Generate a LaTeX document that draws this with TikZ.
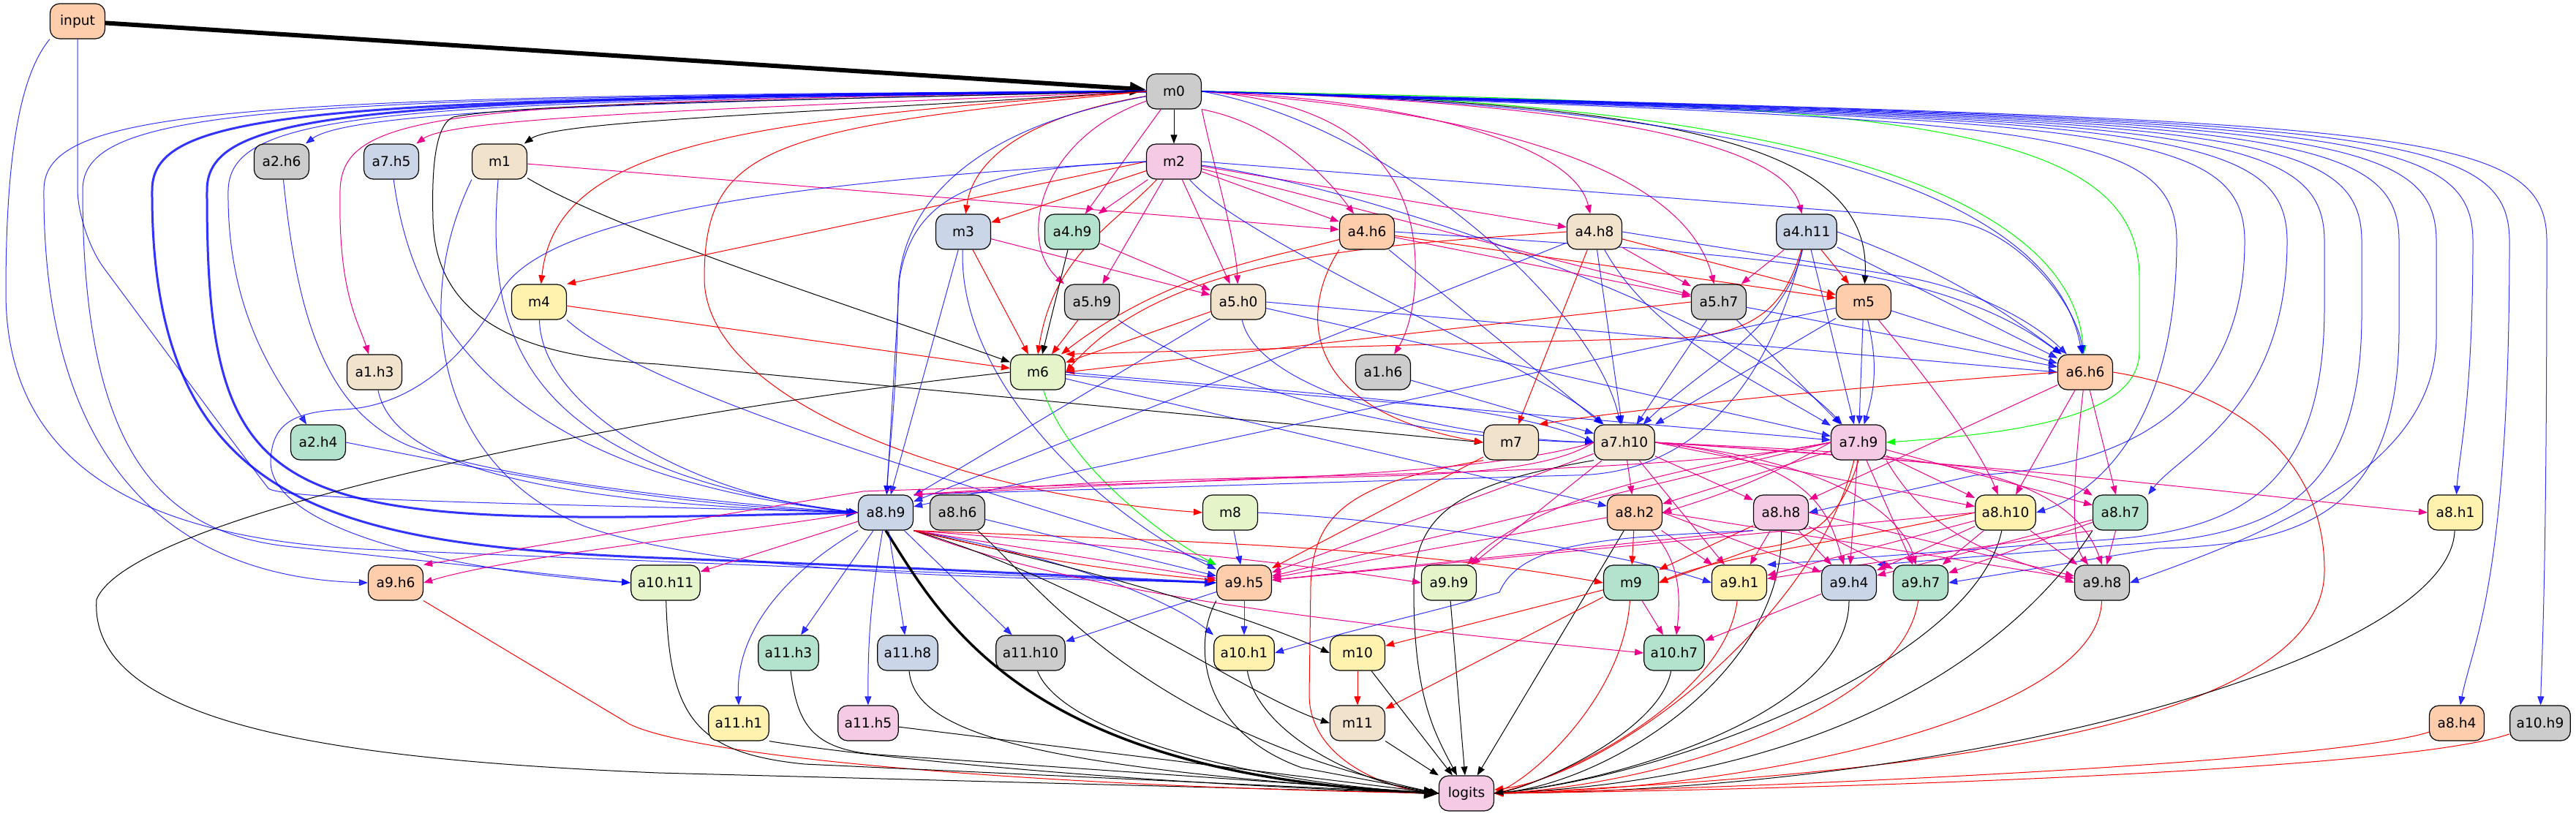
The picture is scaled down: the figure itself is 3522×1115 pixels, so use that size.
\documentclass[tikz,border=0pt]{standalone}
\usepackage{fontspec}
\setmainfont{DejaVu Sans}
\usetikzlibrary{arrows.meta,backgrounds}
\definecolor{cGrey}{HTML}{CCCCCC}
\definecolor{cBlue}{HTML}{CBD5E8}
\definecolor{cGreen}{HTML}{B3E2CD}
\definecolor{cPeach}{HTML}{FDCDAC}
\definecolor{cBeige}{HTML}{F1E2CC}
\definecolor{cPink}{HTML}{F4CAE4}
\definecolor{cLgreen}{HTML}{E6F5C9}
\definecolor{cYellow}{HTML}{FFF2AE}
\tikzset{
  nd/.style={draw=black, line width=0.6pt, rounded corners=6.5pt, minimum width=37.5pt,
    minimum height=24pt, inner xsep=4.5pt, inner ysep=0pt, font=\fontsize{9.3}{10}\selectfont},
  ed/.style={line width=0.5pt, -{Triangle[length=6pt,width=4.5pt]}},
  eB/.style={ed, color=blue, opacity=0.8},
  eR/.style={ed, color=red},
  eM/.style={ed, color=magenta},
  eG/.style={ed, color=green},
  eK/.style={ed, color=black},
  thk/.style={line width=1.5pt, -{Triangle[length=8pt,width=6pt]}}
}
\begin{document}
\begin{tikzpicture}[x=0.5pt,y=-0.5pt]
\useasboundingbox (0,0) rectangle (3522,1115);
% nodes
\node[nd, fill=cPeach] (input) at (106,29) {input};
\node[nd, fill=cGrey] (m0) at (1605,125) {m0};
\node[nd, fill=cGrey] (a2h6) at (385,221) {a2.h6};
\node[nd, fill=cBlue] (a7h5) at (535,221) {a7.h5};
\node[nd, fill=cBeige] (m1) at (683,221) {m1};
\node[nd, fill=cPink] (m2) at (1605,221) {m2};
\node[nd, fill=cBlue] (m3) at (1317,317) {m3};
\node[nd, fill=cGreen] (a4h9) at (1466,317) {a4.h9};
\node[nd, fill=cPeach] (a4h6) at (1869,317) {a4.h6};
\node[nd, fill=cBeige] (a4h8) at (2180,317) {a4.h8};
\node[nd, fill=cBlue] (a4h11) at (2470,317) {a4.h11};
\node[nd, fill=cYellow] (m4) at (737,413) {m4};
\node[nd, fill=cGrey] (a5h9) at (1493,413) {a5.h9};
\node[nd, fill=cBeige] (a5h0) at (1693,413) {a5.h0};
\node[nd, fill=cGrey] (a5h7) at (2350,413) {a5.h7};
\node[nd, fill=cPeach] (m5) at (2548,413) {m5};
\node[nd, fill=cBeige] (a1h3) at (512,509) {a1.h3};
\node[nd, fill=cLgreen] (m6) at (1419,509) {m6};
\node[nd, fill=cGrey] (a1h6) at (1891,509) {a1.h6};
\node[nd, fill=cPeach] (a6h6) at (2851,509) {a6.h6};
\node[nd, fill=cGreen] (a2h4) at (435,605) {a2.h4};
\node[nd, fill=cBeige] (m7) at (2066,605) {m7};
\node[nd, fill=cBeige] (a7h10) at (2221,605) {a7.h10};
\node[nd, fill=cPink] (a7h9) at (2541,605) {a7.h9};
\node[nd, fill=cBlue] (a8h9) at (1211,701) {a8.h9};
\node[nd, fill=cGrey] (a8h6) at (1309,701) {a8.h6};
\node[nd, fill=cLgreen] (m8) at (1682,701) {m8};
\node[nd, fill=cPeach] (a8h2) at (2235,701) {a8.h2};
\node[nd, fill=cPink] (a8h8) at (2435,701) {a8.h8};
\node[nd, fill=cYellow] (a8h10) at (2742,701) {a8.h10};
\node[nd, fill=cGreen] (a8h7) at (2899,701) {a8.h7};
\node[nd, fill=cYellow] (a8h1) at (3357,701) {a8.h1};
\node[nd, fill=cPeach] (a9h6) at (541,797) {a9.h6};
\node[nd, fill=cLgreen] (a10h11) at (910,797) {a10.h11};
\node[nd, fill=cPeach] (a9h5) at (1701,797) {a9.h5};
\node[nd, fill=cLgreen] (a9h9) at (1981,797) {a9.h9};
\node[nd, fill=cGreen] (m9) at (2230,797) {m9};
\node[nd, fill=cYellow] (a9h1) at (2378,797) {a9.h1};
\node[nd, fill=cBlue] (a9h4) at (2528,797) {a9.h4};
\node[nd, fill=cGreen] (a9h7) at (2626,797) {a9.h7};
\node[nd, fill=cGrey] (a9h8) at (2874,797) {a9.h8};
\node[nd, fill=cGreen] (a11h3) at (1078,893) {a11.h3};
\node[nd, fill=cBlue] (a11h8) at (1241,893) {a11.h8};
\node[nd, fill=cGrey] (a11h10) at (1409,893) {a11.h10};
\node[nd, fill=cYellow] (a10h1) at (1701,893) {a10.h1};
\node[nd, fill=cYellow] (m10) at (1856,893) {m10};
\node[nd, fill=cGreen] (a10h7) at (2289,893) {a10.h7};
\node[nd, fill=cYellow] (a11h1) at (1010,989) {a11.h1};
\node[nd, fill=cPink] (a11h5) at (1187,989) {a11.h5};
\node[nd, fill=cBeige] (m11) at (1856,989) {m11};
\node[nd, fill=cPeach] (a8h4) at (3359,989) {a8.h4};
\node[nd, fill=cGrey] (a10h9) at (3473,989) {a10.h9};
\node[nd, fill=cPink] (logits) at (2005,1085) {logits};

\begin{scope}[on background layer]
\fill[white] (0,0) rectangle (3522,1115);
% input
\draw[eK, line width=3pt, -{Triangle[length=11pt,width=8.5pt]}] (input) -- (m0);
\draw[eB, rounded corners=30pt] (input.south) -- (106,318) -- (330,620) .. controls (380,685) and (800,690) .. (a8h9.west);
\draw[eB] (input.south west) .. controls (30,100) and (8,200) .. (8,400) .. controls (8,640) and (200,740) .. (520,752) .. controls (1000,772) and (1450,790) .. (a9h5.west);
% m0 left bundle
\draw[eB] (m0.west) .. controls (900,140) and (480,150) .. (a2h6);
\draw[eM] (m0.west) .. controls (1000,148) and (620,160) .. (a7h5);
\draw[eK] (m0.west) .. controls (1100,155) and (760,165) .. (m1);
\draw[eM] (m0.west) .. controls (620,140) and (468,150) .. (465,260) .. controls (462,400) and (490,440) .. (a1h3);
\draw[eB] (m0.west) .. controls (530,140) and (315,150) .. (312,260) .. controls (310,430) and (380,520) .. (a2h4);
\draw[eB, thk] (m0.west) .. controls (500,135) and (283,150) .. (283,260) .. controls (282,720) and (380,720) .. (a8h9.west);
\draw[eB, thk] (m0.west) .. controls (430,135) and (208,150) .. (208,260) .. controls (206,690) and (450,745) .. (900,763) .. controls (1300,778) and (1500,790) .. (a9h5.west);
\draw[eB] (m0.west) .. controls (300,130) and (60,150) .. (60,260) .. controls (58,650) and (250,790) .. (a9h6.west);
\draw[eB] (m0.west) .. controls (350,132) and (113,150) .. (113,260) .. controls (113,620) and (220,730) .. (400,748) -- (a10h11.west);
\draw[eR] (m0.west) .. controls (1000,165) and (760,200) .. (m4);
\draw[eK] (m0.west) .. controls (900,140) and (700,145) .. (620,160) .. controls (595,170) and (590,230) .. (592,300) .. controls (595,460) and (760,490) .. (900,498) -- (m7.west);
\draw[eR] (m0.west) .. controls (1050,175) and (963,200) .. (963,380) .. controls (963,560) and (1350,680) .. (m8.west);
% m0 down
\draw[eK] (m0) -- (m2);
\draw[eR] (m0) .. controls (1400,160) and (1330,220) .. (m3);
\draw[eM] (m0) -- (a4h9);
\draw[eM] (m0) .. controls (1420,190) and (1390,330) .. (a5h9.north west);
\draw[eM] (m0.south east) .. controls (1660,230) and (1690,330) .. (a5h0);
\draw[eM] (m0.south east) .. controls (1750,170) and (1820,250) .. (a4h6);
\draw[eM] (m0.east) .. controls (1900,135) and (2150,190) .. (a4h8);
\draw[eM] (m0.east) .. controls (2200,140) and (2440,200) .. (a4h11);
\draw[eM] (m0.east) .. controls (2000,150) and (2300,220) .. (a5h7);
\draw[eK] (m0.east) .. controls (2300,140) and (2560,200) .. (m5);
\draw[eM] (m0.east) .. controls (1850,140) and (1940,230) .. (1935,380) .. controls (1933,440) and (1915,470) .. (a1h6);
\draw[eG] (m0.east) .. controls (2400,135) and (2830,250) .. (a6h6);
\draw[eB] (m0.east) .. controls (2300,140) and (2800,230) .. (a6h6);
\draw[eG] (m0.east) .. controls (2600,140) and (2925,170) .. (2925,380) -- (2925,480) .. controls (2925,560) and (2800,590) .. (a7h9.east);
\draw[eB] (m0.east) .. controls (1900,170) and (2180,420) .. (a7h10);
\draw[eB] (m0) .. controls (1300,180) and (1230,300) .. (1228,400) .. controls (1226,550) and (1215,620) .. (a8h9);
% m0 right bundle
\draw[eB] (m0.east) .. controls (2776,165) and (2976,170) .. (2976,330) .. controls (2976,600) and (2850,680) .. (a8h10.east);
\draw[eB] (m0.east) .. controls (2869,165) and (3069,170) .. (3069,330) .. controls (3069,560) and (2900,640) .. (2700,650) -- (a8h8.east);
\draw[eB] (m0.east) .. controls (2927,165) and (3127,170) .. (3127,330) .. controls (3127,560) and (2980,620) .. (a8h7.north east);
\draw[eB] (m0.east) .. controls (2978,165) and (3178,170) .. (3178,330) -- (3178,420) .. controls (3178,680) and (3050,730) .. (2850,740) -- (a9h1.north east);
\draw[eB] (m0.east) .. controls (3029,165) and (3229,170) .. (3229,330) -- (3229,430) .. controls (3229,690) and (3100,735) .. (2900,745) -- (a9h4.north east);
\draw[eB] (m0.east) .. controls (3080,165) and (3280,170) .. (3280,330) -- (3280,450) .. controls (3280,700) and (3150,745) .. (2950,750) -- (a9h7.east);
\draw[eB] (m0.east) .. controls (3131,165) and (3331,170) .. (3331,330) -- (3331,460) .. controls (3331,640) and (3100,730) .. (a9h8.east);
\draw[eB] (m0.east) .. controls (3181,165) and (3381,170) .. (3381,330) .. controls (3381,550) and (3362,620) .. (a8h1);
\draw[eB] (m0.east) .. controls (3231,165) and (3431,170) .. (3431,330) .. controls (3431,800) and (3380,880) .. (a8h4);
\draw[eB] (m0.east) .. controls (3282,165) and (3482,170) .. (3482,330) .. controls (3482,800) and (3475,900) .. (a10h9);
% m1
\draw[eM] (m1) -- (a4h6);
\draw[eK] (m1) .. controls (850,320) and (1200,430) .. (m6);
\draw[eB] (m1) .. controls (665,450) and (700,640) .. (a8h9.west);
\draw[eB] (m1.south west) .. controls (560,420) and (600,640) .. (800,720) .. controls (1000,790) and (1400,790) .. (a9h5.west);
% m2
\draw[eR] (m2) -- (m3);
\draw[eR] (m2.west) -- (m4.north east);
\draw[eR] (m2) .. controls (1520,310) and (1440,350) .. (m6.north);
\draw[eM] (m2) -- (a4h9);
\draw[eM] (m2) -- (a4h6);
\draw[eM] (m2) -- (a4h8);
\draw[eM] (m2) -- (a5h9);
\draw[eM] (m2) -- (a5h0);
\draw[eM] (m2) -- (a5h7);
\draw[eB] (m2.west) .. controls (1350,230) and (1250,260) .. (1230,380) -- (a8h9);
\draw[eB] (m2.west) .. controls (1050,250) and (720,300) .. (680,410) .. controls (640,480) and (570,555) .. (470,560) .. controls (400,563) and (372,580) .. (370,630) .. controls (368,720) and (600,780) .. (a10h11.west);
\draw[eB] (m2.east) -- (2660,300) .. controls (2760,310) and (2840,420) .. (a6h6);
\draw[eB] (m2) .. controls (1900,260) and (2400,450) .. (a7h9);
\draw[eB] (m2) .. controls (1700,330) and (2100,500) .. (a7h10);
% m3
\draw[eM] (m3) -- (a5h0);
\draw[eR] (m3) -- (m6);
\draw[eB] (m3) -- (a8h9);
\draw[eB] (m3) .. controls (1310,520) and (1500,700) .. (a9h5);
% a4h9
\draw[eM] (a4h9) -- (a5h0);
\draw[eK] (a4h9) -- (m6);
% a4h6
\draw[eM] (a4h6) -- (a5h7);
\draw[eR] (a4h6) -- (m5);
\draw[eR] (a4h6) .. controls (1750,350) and (1600,370) .. (m6);
\draw[eR] (a4h6.south west) .. controls (1780,420) and (1770,560) .. (m7.west);
\draw[eB] (a4h6.east) .. controls (2400,350) and (2650,360) .. (a6h6);
\draw[eB] (a4h6) -- (a7h10);
% a4h8
\draw[eM] (a4h8) -- (a5h7);
\draw[eR] (a4h8) -- (m5);
\draw[eR] (a4h8.west) .. controls (1900,335) and (1600,345) .. (m6.east);
\draw[eR] (a4h8) -- (m7);
\draw[eB] (a4h8.east) -- (2600,378) .. controls (2700,395) and (2780,440) .. (a6h6);
\draw[eB] (a4h8) -- (a7h10);
\draw[eB] (a4h8) .. controls (2260,460) and (2400,520) .. (a7h9);
\draw[eB] (a4h8) -- (a8h9);
% a4h11
\draw[eM] (a4h11) -- (a5h7);
\draw[eR] (a4h11) -- (m5);
\draw[eR] (a4h11) .. controls (2440,420) and (2400,455) .. (2300,462) -- (m6.north east);
\draw[eB] (a4h11) -- (a6h6);
\draw[eB] (a4h11.east) to[bend left=8] (a6h6);
\draw[eB] (a4h11) .. controls (2440,450) and (2330,500) .. (a7h10);
\draw[eB] (a4h11) -- (a7h9);
\draw[eB] (a4h11) .. controls (2420,520) and (2320,650) .. (2150,650) -- (a8h9.north east);
% a5h9, a5h0, a5h7
\draw[eR] (a5h9) -- (m6);
\draw[eB] (a5h9) .. controls (1650,520) and (1900,600) .. (a7h10.west);
\draw[eR] (a5h0) -- (m6);
\draw[eB] (a5h0.east) -- (a6h6.west);
\draw[eB] (a5h0) -- (a7h9);
\draw[eB] (a5h0) .. controls (1720,540) and (2000,600) .. (a7h10.west);
\draw[eB] (a5h0) -- (a8h9);
\draw[eR] (a5h7.west) -- (m6.east);
\draw[eB] (a5h7) -- (a6h6);
\draw[eB] (a5h7) -- (a7h9);
\draw[eB] (a5h7) -- (a7h10);
% m5
\draw[eB] (m5) -- (a6h6);
\draw[eB] (m5) -- (a7h9);
\draw[eB] (m5) to[bend left=15] (a7h9);
\draw[eB] (m5) -- (a7h10);
\draw[eB] (m5) -- (a8h9);
\draw[eM] (m5) .. controls (2620,500) and (2700,600) .. (a8h10);
% early heads into a8.h9
\draw[eB] (a1h3) .. controls (540,650) and (800,690) .. (a8h9.west);
\draw[eB] (a2h4.east) .. controls (700,650) and (900,690) .. (a8h9.west);
\draw[eB] (a2h6) .. controls (405,420) and (440,560) .. (560,610) .. controls (700,660) and (1000,690) .. (a8h9.west);
\draw[eB] (a7h5) .. controls (565,450) and (700,650) .. (a8h9.west);
% m4
\draw[eR] (m4) -- (m6);
\draw[eB] (m4) .. controls (740,560) and (950,680) .. (a8h9.west);
\draw[eB] (m4.south east) .. controls (900,550) and (1420,690) .. (a9h5.north west);
% a1h6
\draw[eB] (a1h6) -- (a7h10);
% m6
\draw[eK] (m6.west) .. controls (900,560) and (180,700) .. (132,820) .. controls (120,1000) and (500,1040) .. (900,1057) -- (logits.west);
\draw[eB] (m6.east) .. controls (1800,540) and (2050,550) .. (a7h10.west);
\draw[eB] (m6) -- (a7h9);
\draw[eB] (m6) -- (a8h2);
\draw[eG] (m6) .. controls (1460,640) and (1600,740) .. (a9h5.north west);
% a6h6
\draw[eR] (a6h6.west) .. controls (2400,540) and (2200,565) .. (m7.north east);
\draw[eR] (a6h6.east) .. controls (3080,540) and (3178,640) .. (3178,780) .. controls (3178,1000) and (2600,1060) .. (logits.east);
\draw[eM] (a6h6) -- (a8h10);
\draw[eM] (a6h6) -- (a8h7);
\draw[eM] (a6h6) -- (a8h8);
\draw[eM] (a6h6) .. controls (2835,650) and (2830,740) .. (a9h8);
% m7
\draw[eR] (m7.south west) .. controls (1850,660) and (1795,700) .. (1792,800) -- (1790,950) .. controls (1790,1040) and (1900,1080) .. (logits.west);
\draw[eR] (m7) -- (a9h5);
% a7h10
\draw[eM] (a7h10) -- (a8h2);
\draw[eM] (a7h10) -- (a8h8);
\draw[eM] (a7h10.east) -- (a8h10);
\draw[eM] (a7h10.east) .. controls (2500,620) and (2800,640) .. (a8h7);
\draw[eM] (a7h10.east) .. controls (2800,640) and (3100,680) .. (a8h1.west);
\draw[eM] (a7h10.west) .. controls (2100,655) and (1900,650) .. (1700,655) -- (a8h9.north east);
\draw[eM] (a7h10.west) .. controls (2000,660) and (1500,660) .. (1180,672) -- (a9h6.north east);
\draw[eM] (a7h10) -- (a9h9);
\draw[eM] (a7h10) -- (a9h5);
\draw[eM] (a7h10) -- (a9h1);
\draw[eM] (a7h10.east) .. controls (2480,630) and (2500,700) .. (a9h4);
\draw[eM] (a7h10.east) .. controls (2500,630) and (2600,700) .. (a9h7);
\draw[eM] (a7h10.east) .. controls (2550,620) and (2820,620) .. (a9h8.north);
\draw[eK] (a7h10.south west) .. controls (2000,660) and (1935,700) .. (1933,800) .. controls (1932,950) and (1960,1000) .. (logits);
% a7h9
\draw[eM] (a7h9) -- (a8h2);
\draw[eM] (a7h9.west) to[bend left=6] (a8h2.east);
\draw[eM] (a7h9.west) .. controls (2300,648) and (1800,648) .. (1500,660) -- (a8h9.north east);
\draw[eM] (a7h9) -- (a8h10);
\draw[eM] (a7h9) -- (a8h7);
\draw[eM] (a7h9.west) .. controls (2300,640) and (2100,680) .. (a9h9);
\draw[eM] (a7h9.west) -- (a9h5);
\draw[eM] (a7h9) -- (a9h4);
\draw[eM] (a7h9) -- (a9h7);
\draw[eM] (a7h9.south east) .. controls (2650,750) and (2750,760) .. (a9h8.west);
\draw[eR] (a7h9) .. controls (2480,850) and (2200,1060) .. (logits);
\draw[eR] (a7h9.south) .. controls (2520,700) and (2480,745) .. (2400,750) -- (m9.east);
% a8h9
\draw[eK, line width=1.7pt, -{Triangle[length=10pt,width=8pt]}] (a8h9.south) .. controls (1290,850) and (1400,1060) .. (logits.west);
\draw[eB] (a8h9.south west) .. controls (1080,780) and (1005,860) .. (a11h1.north);
\draw[eB] (a8h9) -- (a11h3);
\draw[eB] (a8h9) to[bend right=5] (a11h5);
\draw[eB] (a8h9) -- (a11h8);
\draw[eB] (a8h9) -- (a11h10);
\draw[eB] (a8h9.south east) .. controls (1450,760) and (1600,820) .. (a10h1.north west);
\draw[eM] (a8h9.south east) .. controls (1450,800) and (1700,840) .. (a10h7.west);
\draw[eK] (a8h9.south east) .. controls (1500,780) and (1700,840) .. (m10.west);
\draw[eK] (a8h9.south east) .. controls (1500,800) and (1700,950) .. (m11.west);
\draw[eM] (a8h9.south east) -- (a9h5);
\draw[eR] (a8h9.south east) to[bend right=4] (a9h5);
\draw[eM] (a8h9.south east) .. controls (1500,745) and (1700,760) .. (a9h9.west);
\draw[eR] (a8h9.south east) .. controls (1600,740) and (1900,745) .. (m9.west);
\draw[eM] (a8h9.west) .. controls (1000,730) and (700,760) .. (a9h6.east);
\draw[eM] (a8h9) -- (a10h11);
% a8h6, m8
\draw[eK] (a8h6) .. controls (1420,800) and (1560,1000) .. (logits.west);
\draw[eB] (a8h6) -- (a9h5);
\draw[eB] (m8) -- (a9h5);
\draw[eB] (m8.east) .. controls (1900,710) and (2200,750) .. (a9h1.west);
% a8h2
\draw[eK] (a8h2) -- (logits);
\draw[eR] (a8h2) -- (m9);
\draw[eM] (a8h2) -- (a9h5);
\draw[eM] (a8h2) -- (a9h1);
\draw[eM] (a8h2.east) -- (a9h4);
\draw[eM] (a8h2.east) -- (a9h8);
\draw[eM] (a8h2) .. controls (2290,760) and (2300,800) .. (a10h7);
% a8h8
\draw[eK] (a8h8) .. controls (2440,920) and (2200,1070) .. (logits.east);
\draw[eR] (a8h8) -- (m9);
\draw[eM] (a8h8.south west) -- (a9h5);
\draw[eM] (a8h8) -- (a9h1);
\draw[eM] (a8h8) -- (a9h4);
\draw[eM] (a8h8) -- (a9h7);
\draw[eM] (a8h8.east) -- (a9h8);
\draw[eB] (a8h8.south west) .. controls (2200,735) and (2080,740) .. (2050,810) .. controls (1950,840) and (1850,860) .. (a10h1.east);
% a8h10
\draw[eK] (a8h10) .. controls (2700,900) and (2300,1060) .. (logits.east);
\draw[eR] (a8h10.west) .. controls (2500,745) and (2350,760) .. (m9.east);
\draw[eM] (a8h10.west) -- (a9h5);
\draw[eM] (a8h10) -- (a9h1);
\draw[eM] (a8h10) -- (a9h4);
\draw[eM] (a8h10) -- (a9h7);
\draw[eM] (a8h10) -- (a9h8);
% a8h7, a8h1, a8h4, a10h9
\draw[eK] (a8h7.south west) .. controls (2800,820) and (2600,1060) .. (logits.east);
\draw[eM] (a8h7.south west) -- (a9h1);
\draw[eM] (a8h7) -- (a9h4);
\draw[eM] (a8h7) -- (a9h7);
\draw[eM] (a8h7) -- (a9h8);
\draw[eK] (a8h1) .. controls (3350,900) and (2700,1080) .. (logits.east);
\draw[eR] (a8h4) .. controls (3200,1040) and (2500,1075) .. (logits.east);
\draw[eR] (a10h9) .. controls (3300,1050) and (2600,1078) .. (logits.east);
% layer 9 and later
\draw[eR] (a9h6.south east) -- (860,990) .. controls (950,1035) and (1400,1075) .. (logits.west);
\draw[eK] (a10h11) .. controls (915,980) and (950,1030) .. (1100,1045) -- (logits.west);
\draw[eB] (a9h5) -- (a10h1);
\draw[eB] (a9h5) -- (a11h10);
\draw[eK] (a9h5.south west) .. controls (1630,880) and (1640,1000) .. (1780,1050) -- (logits.west);
\draw[eK] (a9h9) -- (logits);
\draw[eR] (m9) -- (m10);
\draw[eR] (m9) -- (m11);
\draw[eM] (m9) -- (a10h7);
\draw[eR] (m9) .. controls (2220,950) and (2100,1060) .. (logits.east);
\draw[eR] (a9h1) .. controls (2360,950) and (2150,1060) .. (logits.east);
\draw[eK] (a9h4) .. controls (2528,980) and (2200,1070) .. (logits.east);
\draw[eM] (a9h4) -- (a10h7);
\draw[eR] (a9h7) .. controls (2600,980) and (2250,1075) .. (logits.east);
\draw[eR] (a9h8) .. controls (2870,980) and (2400,1080) .. (logits.east);
\draw[eK] (a11h3) .. controls (1090,990) and (1110,1025) .. (1200,1032) -- (logits.west);
\draw[eK] (a11h8) .. controls (1250,1000) and (1400,1050) .. (logits.west);
\draw[eK] (a11h10) .. controls (1450,1000) and (1700,1070) .. (logits.west);
\draw[eK] (a10h1) .. controls (1720,1000) and (1850,1070) .. (logits.west);
\draw[eK] (a11h1.south east) .. controls (1150,1030) and (1500,1070) .. (logits.west);
\draw[eK] (a11h5) -- (logits.west);
\draw[eR] (m10) -- (m11);
\draw[eK] (m10) -- (logits);
\draw[eK] (m11) -- (logits);
\draw[eK] (a10h7) .. controls (2270,1000) and (2100,1075) .. (logits.east);
\end{scope}
\end{tikzpicture}
\end{document}
